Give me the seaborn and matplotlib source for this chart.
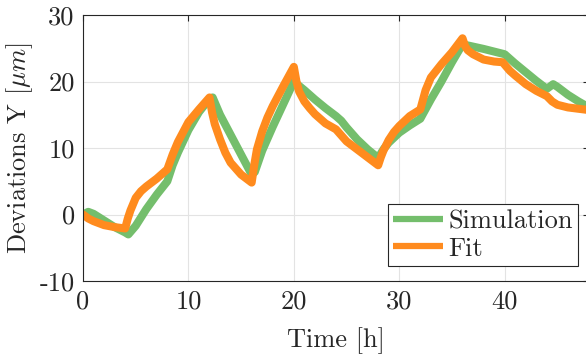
import numpy as np
import matplotlib
matplotlib.use("Agg")
import matplotlib.pyplot as plt
import pandas as pd
import seaborn as sns

# Simulated deviation (green)
t_sim = [0, 0.5, 1, 2, 3, 4, 4.3, 5, 6, 7, 8, 8.5, 9, 10, 11, 12, 12.3, 13, 14, 15, 16,
         16.3, 17, 18, 19, 20, 21, 22, 23, 24, 24.5, 25, 26, 27, 28, 28.5, 29, 30, 31, 32,
         33, 34, 35, 36, 38, 40, 41, 42, 43, 44, 44.6, 45, 46, 47, 48]
y_sim = [0, 0.4, 0.1, -0.9, -1.9, -2.7, -3.0, -1.7, 0.8, 3.0, 5.0, 7.4, 9.3, 12.7, 15.4, 17.4, 17.6,
         15.0, 12.0, 9.0, 6.0, 6.4, 9.6, 13.2, 16.6, 20.0, 18.7, 17.3, 16.0, 14.8, 14.1, 13.1,
         11.3, 9.8, 8.5, 9.8, 10.8, 12.3, 13.4, 14.4, 17.3, 20.0, 22.9, 25.6, 24.9, 24.1, 22.7, 21.4,
         20.1, 18.9, 19.6, 19.2, 18.0, 17.0, 16.1]

# Fitted model (orange)
t_fit = [0, 0.5, 1, 2, 3, 4, 4.25, 4.5, 5, 5.5, 6, 7, 8, 8.5, 9, 10, 11, 12, 12.25, 12.5, 13,
         13.5, 14, 15, 16, 16.25, 16.5, 17, 17.5, 18, 19, 20, 20.25, 20.5, 21, 21.5, 22, 23, 24,
         25, 26, 27, 28, 28.25, 28.5, 29, 29.5, 30, 31, 32, 32.5, 33, 34, 35, 36, 36.25, 36.5,
         37, 38, 39, 39.8, 40.5, 41, 42, 43, 44, 44.5, 45, 46, 47, 48]
y_fit = [0, -0.6, -1.0, -1.6, -1.9, -2.1, -0.6, 0.6, 2.5, 3.5, 4.2, 5.4, 6.8, 9.0, 10.9, 13.9,
         15.8, 17.6, 15.3, 13.6, 11.3, 9.3, 7.8, 6.0, 4.8, 7.5, 9.8, 12.5, 14.6, 16.3, 19.3, 22.2,
         20.0, 18.5, 17.0, 16.0, 15.1, 13.7, 12.8, 11.0, 9.8, 8.6, 7.4, 8.6, 9.6, 11.2, 12.4, 13.3,
         14.8, 15.8, 18.7, 20.6, 22.6, 24.4, 26.5, 25.3, 24.7, 24.1, 23.3, 23.0, 22.9, 21.6, 20.9,
         19.6, 18.6, 17.8, 17.0, 16.5, 16.1, 15.9, 15.7]

green = "#74BE6C"
orange = "#FF8B1E"

sns.set_style("white")
plt.rcParams["font.family"] = ["cmr10", "DejaVu Serif"]
plt.rcParams["mathtext.fontset"] = "cm"
plt.rcParams["axes.unicode_minus"] = False
plt.rcParams["axes.formatter.use_mathtext"] = False

df = pd.concat([
    pd.DataFrame({"t": t_sim, "y": y_sim, "series": "Simulation"}),
    pd.DataFrame({"t": t_fit, "y": y_fit, "series": "Fit"}),
])

fig = plt.figure(figsize=(5.86, 3.6), dpi=100)
ax = fig.add_axes([83 / 586, 1 - 281 / 360, 506 / 586, 266 / 360])

sns.lineplot(data=df, x="t", y="y", hue="series", palette={"Simulation": green, "Fit": orange},
             linewidth=5.8, sort=False, estimator=None, ax=ax,
             solid_joinstyle="round", solid_capstyle="round")

ax.set_xlim(0, 48)
ax.set_ylim(-10, 30)
ax.set_xticks([0, 10, 20, 30, 40])
ax.set_yticks([-10, 0, 10, 20, 30])
ax.grid(True, color="#e3e3e3", linewidth=0.8)
ax.tick_params(direction="in", top=True, right=True, length=4, width=0.8,
               labelsize=19, colors="#262626", pad=6)
for s in ax.spines.values():
    s.set_color("#262626")
    s.set_linewidth(0.8)

ax.set_xlabel("Time [h]", fontsize=19, color="#262626", labelpad=10)
ax.set_ylabel(r"Deviations Y [$\mu m$]", fontsize=19, color="#262626", labelpad=3)

leg = ax.legend(loc="lower right", bbox_to_anchor=(578 / 586, 94 / 360),
                bbox_transform=fig.transFigure, borderaxespad=0, fontsize=19,
                fancybox=False, framealpha=1, edgecolor="#262626", handlelength=1.9,
                handletextpad=0.2, labelspacing=0.15, borderpad=0.2)
leg.get_frame().set_linewidth(0.8)
for line in leg.get_lines():
    line.set_linewidth(4.5)
    line.set_solid_capstyle("butt")

fig.savefig("out.png", dpi=100)
